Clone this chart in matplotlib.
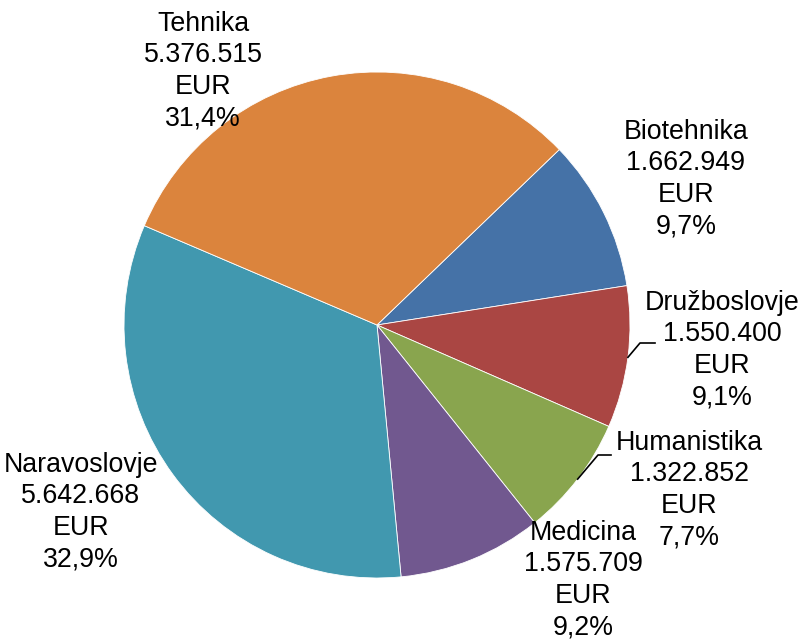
import numpy as np
import matplotlib
matplotlib.use('Agg')
import matplotlib.pyplot as plt

names = ['Biotehnika', 'Družboslovje', 'Humanistika', 'Medicina', 'Naravoslovje', 'Tehnika']
values = [1662949, 1550400, 1322852, 1575709, 5642668, 5376515]
colors = ['#4572A7', '#AA4643', '#89A54E', '#71588F', '#4198AF', '#DB843D']

W, H = 802, 641
fig = plt.figure(figsize=(W / 100, H / 100), dpi=100)
ax = fig.add_axes([0, 0, 1, 1])

cx, cy, r = 377, H - 325, 253
start = 43.9
wedges, _ = ax.pie(values, colors=colors, startangle=start, counterclock=False,
                   center=(cx, cy), radius=r, frame=True,
                   wedgeprops=dict(edgecolor='white', linewidth=0.6))
ax.set_xlim(0, W)
ax.set_ylim(0, H)
ax.set_aspect('equal')
ax.axis('off')

total = sum(values)

def fmt(v):
    return f'{v:,}'.replace(',', '.')

# label centres in pixel coords (y from top)
label_pos = [(686, 179), (722, 350), (689, 490), (583, 580), (81, 512), (203, 71)]
# leader line elbows (only for the two crowded labels)
elbows = {1: [(640, 343), (655, 343)], 2: [(598, 455), (611, 455)]}

for i, (n, v) in enumerate(zip(names, values)):
    pct = f'{v / total * 100:.1f}'.replace('.', ',')
    txt = f'{n}\n{fmt(v)}\nEUR\n{pct}%'
    x, y = label_pos[i]
    ax.text(x, H - y, txt, ha='center', va='center', fontsize=19.3,
            family='Liberation Sans', linespacing=1.28, color='black')
    if i in elbows:
        w = wedges[i]
        mid = np.deg2rad((w.theta1 + w.theta2) / 2)
        ex, ey = cx + r * np.cos(mid), cy + r * np.sin(mid)
        xs = [ex] + [p[0] for p in elbows[i]]
        ys = [ey] + [H - p[1] for p in elbows[i]]
        ax.plot(xs, ys, color='black', lw=1.2)

fig.savefig('out.png', dpi=100, facecolor='white')
